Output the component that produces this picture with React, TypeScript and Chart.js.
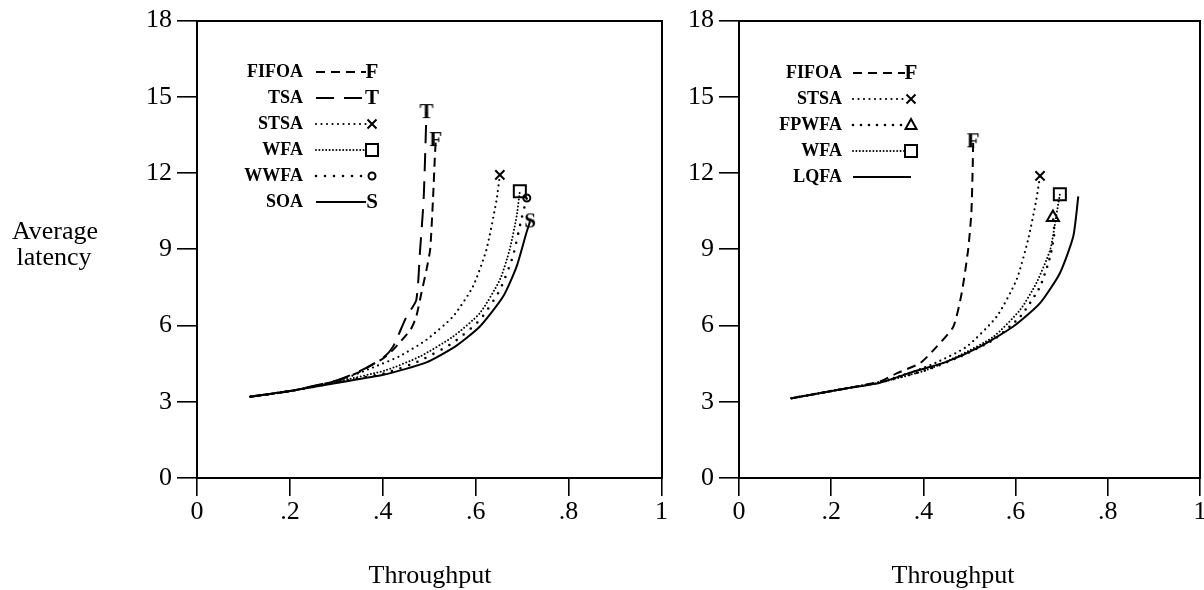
import React, { useEffect, useRef } from 'react';
import { Chart, registerables } from 'chart.js';

Chart.register(...registerables);

const FONT = "'Liberation Serif', 'Times New Roman', Times, serif";

// ---- tick labels ----
const xTickLabels = ['0', '.2', '.4', '.6', '.8', '1'];
const yTickLabels = ['0', '3', '6', '9', '12', '15', '18'];

// ---- left panel series: [throughput, average latency] ----
type Pt = [number, number];
const leftFIFOA: Pt[] = [[0.115, 3.2], [0.2, 3.42], [0.3, 3.82], [0.35, 4.18], [0.4, 4.7], [0.422, 5.04], [0.46, 5.85], [0.472, 6.35], [0.483, 7.27], [0.494, 8.19], [0.502, 9.0], [0.508, 10.95], [0.512, 12.6], [0.514, 13.3]];
const leftTSA: Pt[] = [[0.115, 3.2], [0.2, 3.42], [0.3, 3.84], [0.35, 4.2], [0.4, 4.72], [0.422, 5.17], [0.451, 6.35], [0.472, 7.0], [0.48, 8.9], [0.488, 11.0], [0.494, 14.4]];
const leftSTSA: Pt[] = [[0.115, 3.2], [0.2, 3.42], [0.3, 3.8], [0.379, 4.35], [0.437, 4.8], [0.494, 5.44], [0.551, 6.35], [0.594, 7.53], [0.623, 8.98], [0.645, 10.95], [0.652, 11.93]];
const leftWFA: Pt[] = [[0.115, 3.2], [0.2, 3.42], [0.3, 3.78], [0.408, 4.25], [0.48, 4.78], [0.551, 5.56], [0.609, 6.49], [0.652, 7.8], [0.673, 8.98], [0.688, 10.29], [0.695, 11.28]];
const leftWWFA: Pt[] = [[0.115, 3.2], [0.2, 3.42], [0.3, 3.76], [0.408, 4.14], [0.48, 4.62], [0.551, 5.32], [0.609, 6.22], [0.652, 7.4], [0.68, 8.72], [0.698, 10.16], [0.71, 11.02]];
const leftSOA: Pt[] = [[0.115, 3.2], [0.2, 3.42], [0.3, 3.74], [0.401, 4.06], [0.494, 4.55], [0.558, 5.2], [0.609, 5.96], [0.659, 7.14], [0.688, 8.32], [0.709, 9.64], [0.717, 10.1]];

// ---- right panel series ----
const rightFIFOA: Pt[] = [[0.114, 3.14], [0.234, 3.53], [0.306, 3.8], [0.342, 4.12], [0.393, 4.52], [0.429, 5.17], [0.465, 5.96], [0.483, 7.27], [0.497, 8.98], [0.504, 10.42], [0.507, 12.26], [0.508, 13.25]];
const rightSTSA: Pt[] = [[0.114, 3.14], [0.234, 3.53], [0.306, 3.78], [0.378, 4.19], [0.429, 4.55], [0.494, 5.17], [0.559, 6.35], [0.602, 7.8], [0.627, 9.37], [0.645, 10.95], [0.653, 11.89]];
const rightFPWFA: Pt[] = [[0.114, 3.14], [0.234, 3.53], [0.306, 3.76], [0.407, 4.25], [0.48, 4.78], [0.552, 5.44], [0.61, 6.35], [0.653, 7.53], [0.675, 8.72], [0.684, 9.64], [0.681, 10.25]];
const rightWFA: Pt[] = [[0.114, 3.14], [0.234, 3.53], [0.306, 3.76], [0.407, 4.25], [0.48, 4.84], [0.552, 5.56], [0.61, 6.62], [0.645, 7.67], [0.675, 8.98], [0.688, 10.29], [0.696, 11.17]];
const rightLQFA: Pt[] = [[0.114, 3.14], [0.234, 3.53], [0.306, 3.75], [0.378, 4.18], [0.451, 4.58], [0.523, 5.17], [0.595, 5.96], [0.653, 6.88], [0.696, 8.06], [0.725, 9.5], [0.736, 11.08]];

// ---- styles ----
interface Style { label: string; dash: number[]; cap: CanvasLineCap; width: number; marker: string; }
const S_FIFOA: Style = { label: 'FIFOA', dash: [9, 6], cap: 'butt', width: 2, marker: 'F' };
const S_TSA: Style = { label: 'TSA', dash: [18, 10], cap: 'butt', width: 2, marker: 'T' };
const S_STSA: Style = { label: 'STSA', dash: [0, 5.5], cap: 'round', width: 2.2, marker: 'x' };
const S_WFA: Style = { label: 'WFA', dash: [0, 3.4], cap: 'round', width: 2, marker: 'rect' };
const S_WWFA: Style = { label: 'WWFA', dash: [0, 9], cap: 'round', width: 2.6, marker: 'circle' };
const S_SOA: Style = { label: 'SOA', dash: [], cap: 'butt', width: 2, marker: 'S' };
const S_FPWFA: Style = { label: 'FPWFA', dash: [0, 8], cap: 'round', width: 2.6, marker: 'triangle' };
const S_LQFA: Style = { label: 'LQFA', dash: [], cap: 'butt', width: 2, marker: 'none' };

const letterCache: Record<string, HTMLCanvasElement> = {};
function letterCanvas(ch: string): HTMLCanvasElement {
  if (letterCache[ch]) return letterCache[ch];
  const c = document.createElement('canvas');
  c.width = 26; c.height = 26;
  const g = c.getContext('2d')!;
  g.fillStyle = '#000';
  g.font = `bold 21px ${FONT}`;
  g.textAlign = 'center';
  g.textBaseline = 'middle';
  g.fillText(ch, 13, 14);
  letterCache[ch] = c;
  return c;
}

function pointStyleOf(m: string): any {
  if (m === 'F' || m === 'T' || m === 'S') return letterCanvas(m);
  if (m === 'x') return 'crossRot';
  if (m === 'rect') return 'rect';
  if (m === 'circle') return 'circle';
  if (m === 'triangle') return 'triangle';
  return 'circle';
}
function radiusOf(m: string): number {
  switch (m) {
    case 'F': case 'T': case 'S': return 5;
    case 'x': return 6.5;
    case 'rect': return 8.5;
    case 'circle': return 3.5;
    case 'triangle': return 7;
    default: return 0;
  }
}

function makeDataset(pts: Pt[], s: Style) {
  const last = pts.length - 1;
  const r = radiusOf(s.marker);
  return {
    label: s.label,
    data: pts.map(([x, y]) => ({ x, y })),
    showLine: true,
    borderColor: '#000',
    borderWidth: s.width,
    borderDash: s.dash,
    borderCapStyle: s.cap,
    tension: 0.2,
    fill: false,
    pointStyle: pointStyleOf(s.marker),
    pointRadius: (c: any) => (c.dataIndex === last ? r : 0),
    pointBorderWidth: 2,
    pointBorderColor: '#000',
    pointBackgroundColor: 'rgba(0,0,0,0)',
  };
}

function drawLegendMarker(g: CanvasRenderingContext2D, m: string, x: number, y: number) {
  g.save();
  g.setLineDash([]);
  g.strokeStyle = '#000';
  g.lineWidth = 2;
  if (m === 'F' || m === 'T' || m === 'S') {
    const c = letterCanvas(m);
    g.drawImage(c, x - 13, y - 13);
  } else if (m === 'x') {
    const d = 4.5;
    g.beginPath();
    g.moveTo(x - d, y - d); g.lineTo(x + d, y + d);
    g.moveTo(x + d, y - d); g.lineTo(x - d, y + d);
    g.stroke();
  } else if (m === 'rect') {
    g.strokeRect(x - 6, y - 6, 12, 12);
  } else if (m === 'circle') {
    g.beginPath(); g.arc(x, y, 3.5, 0, Math.PI * 2); g.stroke();
  } else if (m === 'triangle') {
    g.beginPath();
    g.moveTo(x, y - 6); g.lineTo(x + 5.5, y + 4); g.lineTo(x - 5.5, y + 4); g.closePath();
    g.stroke();
  }
  g.restore();
}

interface Txt { text: string; x: number; y: number; }
interface PanelCfg {
  canvasLeft: number;
  canvasWidth: number;
  padLeft: number;
  padRight: number;
  series: [Pt[], Style][];
  legendTextRight: number;
  legendLineStart: number;
  legendLineEnd: number;
  legendMarkerX: number;
  legendRows: number[];
  texts: Txt[];
}

function Panel({ cfg }: { cfg: PanelCfg }) {
  const ref = useRef<HTMLCanvasElement>(null);
  useEffect(() => {
    const canvas = ref.current!;
    const ox = cfg.canvasLeft;
    const overlay = {
      id: 'overlay',
      afterDraw(chart: any) {
        const g: CanvasRenderingContext2D = chart.ctx;
        g.save();
        g.fillStyle = '#000';
        g.strokeStyle = '#000';
        // titles
        g.font = `26px ${FONT}`;
        g.textAlign = 'center';
        g.textBaseline = 'middle';
        cfg.texts.forEach((t) => g.fillText(t.text, t.x - ox, t.y));
        // legend
        cfg.series.forEach(([, s], i) => {
          const y = cfg.legendRows[i];
          g.font = `bold 18px ${FONT}`;
          g.textAlign = 'right';
          g.textBaseline = 'middle';
          g.fillText(s.label, cfg.legendTextRight - ox, y);
          g.save();
          g.setLineDash(s.dash);
          g.lineCap = s.cap;
          g.lineWidth = s.width;
          g.beginPath();
          g.moveTo(cfg.legendLineStart - ox, y);
          g.lineTo((s.marker === 'none' ? cfg.legendMarkerX : cfg.legendLineEnd) - ox, y);
          g.stroke();
          g.restore();
          drawLegendMarker(g, s.marker, cfg.legendMarkerX - ox, y);
        });
        g.restore();
      },
    };
    const tickFont = { family: FONT, size: 26 };
    const chart = new Chart(canvas, {
      type: 'scatter',
      data: { datasets: cfg.series.map(([p, s]) => makeDataset(p, s)) as any },
      options: {
        animation: false,
        responsive: false,
        events: [],
        layout: { padding: { left: cfg.padLeft, right: cfg.padRight, top: 20, bottom: 0 } },
        plugins: { legend: { display: false }, tooltip: { enabled: false } },
        scales: {
          x: {
            type: 'linear', position: 'bottom', min: 0, max: 1,
            ticks: {
              stepSize: 0.2, autoSkip: false, maxRotation: 0, padding: 1, color: '#000', font: tickFont,
              callback: (_v: any, i: number) => xTickLabels[i],
            },
            grid: { drawOnChartArea: false, drawTicks: true, tickLength: 18, color: '#000', lineWidth: 1.6 },
            border: { display: true, color: '#000', width: 2 },
            afterFit: (s: any) => { s.height = 112; },
          },
          y: {
            type: 'linear', position: 'left', min: 0, max: 18,
            ticks: {
              stepSize: 3, autoSkip: false, padding: 5, color: '#000', font: tickFont,
              callback: (_v: any, i: number) => yTickLabels[i],
            },
            grid: { drawOnChartArea: false, drawTicks: true, tickLength: 20, color: '#000', lineWidth: 1.6 },
            border: { display: true, color: '#000', width: 2 },
            afterFit: (s: any) => { s.width = 60; },
          },
          xTop: {
            type: 'linear', position: 'top', min: 0, max: 1,
            ticks: { display: false }, grid: { display: false, drawTicks: false },
            border: { display: true, color: '#000', width: 2 },
            afterFit: (s: any) => { s.height = 0; },
          },
          yRight: {
            type: 'linear', position: 'right', min: 0, max: 18,
            ticks: { display: false }, grid: { display: false, drawTicks: false },
            border: { display: true, color: '#000', width: 2 },
            afterFit: (s: any) => { s.width = 0; },
          },
        },
      } as any,
      plugins: [overlay],
    });
    return () => chart.destroy();
  }, []);
  return (
    <canvas
      ref={ref}
      width={cfg.canvasWidth}
      height={590}
      style={{ position: 'absolute', left: cfg.canvasLeft, top: 0, width: cfg.canvasWidth, height: 590 }}
    />
  );
}

const leftCfg: PanelCfg = {
  canvasLeft: 0,
  canvasWidth: 672,
  padLeft: 137,
  padRight: 10,
  series: [[leftFIFOA, S_FIFOA], [leftTSA, S_TSA], [leftSTSA, S_STSA], [leftWFA, S_WFA], [leftWWFA, S_WWFA], [leftSOA, S_SOA]],
  legendTextRight: 303,
  legendLineStart: 316,
  legendLineEnd: 366,
  legendMarkerX: 372,
  legendRows: [72, 98, 124, 150, 176, 202],
  texts: [
    { text: 'Average', x: 55, y: 232 },
    { text: 'latency', x: 54, y: 258 },
    { text: 'Throughput', x: 430, y: 576 },
  ],
};

const rightCfg: PanelCfg = {
  canvasLeft: 672,
  canvasWidth: 540,
  padLeft: 7,
  padRight: 12,
  series: [[rightFIFOA, S_FIFOA], [rightSTSA, S_STSA], [rightFPWFA, S_FPWFA], [rightWFA, S_WFA], [rightLQFA, S_LQFA]],
  legendTextRight: 842,
  legendLineStart: 853,
  legendLineEnd: 905,
  legendMarkerX: 911,
  legendRows: [73, 99, 125, 151, 177],
  texts: [{ text: 'Throughput', x: 953, y: 576 }],
};

export default function App() {
  return (
    <div style={{ position: 'absolute', left: 0, top: 0, width: 1204, height: 590, overflow: 'hidden', background: '#fff' }}>
      <Panel cfg={leftCfg} />
      <Panel cfg={rightCfg} />
    </div>
  );
}
